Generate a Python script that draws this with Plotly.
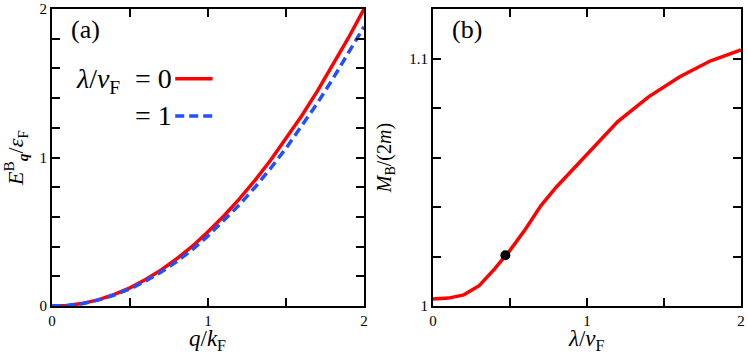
import plotly.graph_objects as go

# panel (a): bound-state dispersion
q = [0, 0.1, 0.2, 0.3, 0.4, 0.5, 0.6, 0.7, 0.8, 0.9, 1.0,
     1.1, 1.2, 1.3, 1.4, 1.5, 1.6, 1.7, 1.8, 1.9, 2.0]
E_lam0 = [0, 0.004, 0.018, 0.043, 0.078, 0.122, 0.178, 0.243, 0.318, 0.403, 0.5,
          0.605, 0.72, 0.845, 0.98, 1.125, 1.28, 1.445, 1.62, 1.805, 2.0]
E_lam1 = [0, 0.004, 0.017, 0.041, 0.074, 0.115, 0.168, 0.229, 0.3, 0.38, 0.472,
          0.572, 0.68, 0.798, 0.925, 1.062, 1.208, 1.364, 1.529, 1.703, 1.88]

# panel (b): bound-state mass
lam = [0, 0.1, 0.2, 0.3, 0.4, 0.5, 0.6, 0.7, 0.8, 1.0, 1.2, 1.4, 1.6, 1.8, 2.0]
M_B = [1.0028, 1.0032, 1.0045, 1.0082, 1.015, 1.0225, 1.031, 1.0405, 1.048,
       1.0615, 1.0745, 1.0845, 1.0925, 1.099, 1.1035]
dot_lam = [0.47]
dot_M = [1.0205]

RED = "#ff0000"
BLUE = "#2050ff"
FONT = "Liberation Serif, DejaVu Serif, serif"

fig = go.Figure()
fig.add_trace(go.Scatter(x=q, y=E_lam0, mode="lines", line=dict(color=RED, width=3.5),
                         xaxis="x", yaxis="y"))
fig.add_trace(go.Scatter(x=q, y=E_lam1, mode="lines",
                         line=dict(color=BLUE, width=3.5, dash="9px,5px"),
                         xaxis="x", yaxis="y"))
fig.add_trace(go.Scatter(x=lam, y=M_B, mode="lines", line=dict(color=RED, width=3.5),
                         xaxis="x2", yaxis="y2"))
fig.add_trace(go.Scatter(x=dot_lam, y=dot_M, mode="markers",
                         marker=dict(color="black", size=10),
                         xaxis="x2", yaxis="y2"))

minor_t = dict(ticks="inside", ticklen=8, tickwidth=2, tickcolor="black")
ax = dict(showgrid=False, zeroline=False, showline=True, linecolor="black", linewidth=2,
          mirror="ticks", ticks="inside", ticklen=8, tickwidth=2, tickcolor="black",
          tickfont=dict(family=FONT, size=15, color="black"), automargin=False,
          ticklabeloverflow="allow")

fig.update_layout(
    width=748, height=356,
    margin=dict(l=0, r=0, t=0, b=0),
    paper_bgcolor="white", plot_bgcolor="white",
    showlegend=False,
    xaxis=dict(ax, domain=[0.0695, 0.4866], range=[0, 2], dtick=1,
               minor=dict(minor_t, dtick=0.5)),
    yaxis=dict(ax, domain=[0.1404, 0.9747], range=[0, 2], dtick=1,
               minor=dict(minor_t, dtick=0.2),
               title=dict(text="<i>E</i><sup>B</sup><sub><b><i>q</i></b></sub>/<i>ε</i><sub>F</sub>",
                          standoff=14, font=dict(family=FONT, size=22, color="black"))),
    xaxis2=dict(ax, domain=[0.5789, 0.9906], range=[0, 2], dtick=1, anchor="y2",
                minor=dict(minor_t, dtick=0.5)),
    yaxis2=dict(ax, domain=[0.1404, 0.9747], range=[1, 1.12], anchor="x2",
                tickvals=[1, 1.1], ticktext=["1", "1.1"],
                minor=dict(minor_t, dtick=0.02),
                title=dict(text="<i>M</i><sub>B</sub>/(2<i>m</i>)", standoff=12,
                           font=dict(family=FONT, size=20, color="black"))),
)

# x-axis titles placed as annotations just under the tick labels
xt = dict(family=FONT, size=23, color="black")
fig.add_annotation(text="<i>q</i>/<i>k</i><sub>F</sub>", x=0.5, y=0.0, xref="x domain",
                   yref="paper", xanchor="center", yanchor="bottom", showarrow=False,
                   font=xt)
fig.add_annotation(text="<i>λ</i>/<i>v</i><sub>F</sub>", x=0.5, y=0.0, xref="x2 domain",
                   yref="paper", xanchor="center", yanchor="bottom", showarrow=False,
                   font=xt)

txt = dict(family=FONT, size=26, color="black")
fig.add_annotation(text="(a)", x=0.055, y=0.93, xref="x domain", yref="y domain",
                   xanchor="left", yanchor="middle", showarrow=False, font=txt)
fig.add_annotation(text="(b)", x=0.055, y=0.93, xref="x2 domain", yref="y2 domain",
                   xanchor="left", yanchor="middle", showarrow=False, font=txt)
# legend drawn by hand: label on the left, line sample on the right
fig.add_annotation(text="<i>λ</i>/<i>v</i><sub>F</sub>", x=0.225, y=0.76,
                   xref="x domain", yref="y domain", xanchor="right", yanchor="middle",
                   showarrow=False, font=dict(family=FONT, size=28, color="black"))
fig.add_annotation(text="= 0", x=0.39, y=0.765,
                   xref="x domain", yref="y domain", xanchor="right", yanchor="middle",
                   showarrow=False, font=dict(family=FONT, size=28, color="black"))
fig.add_annotation(text="= 1", x=0.39, y=0.64,
                   xref="x domain", yref="y domain", xanchor="right", yanchor="middle",
                   showarrow=False, font=dict(family=FONT, size=28, color="black"))
fig.add_shape(type="line", x0=0.395, x1=0.515, y0=0.765, y1=0.765,
              xref="x domain", yref="y domain", line=dict(color=RED, width=3.5))
fig.add_shape(type="line", x0=0.395, x1=0.515, y0=0.64, y1=0.64,
              xref="x domain", yref="y domain", line=dict(color=BLUE, width=3.5, dash="9px,5px"))

# the default page has an 8px body margin; drop it so the figure fills the window
fig.write_html("out.html", config={"displayModeBar": False},
               post_script="document.body.style.margin='0px';")
